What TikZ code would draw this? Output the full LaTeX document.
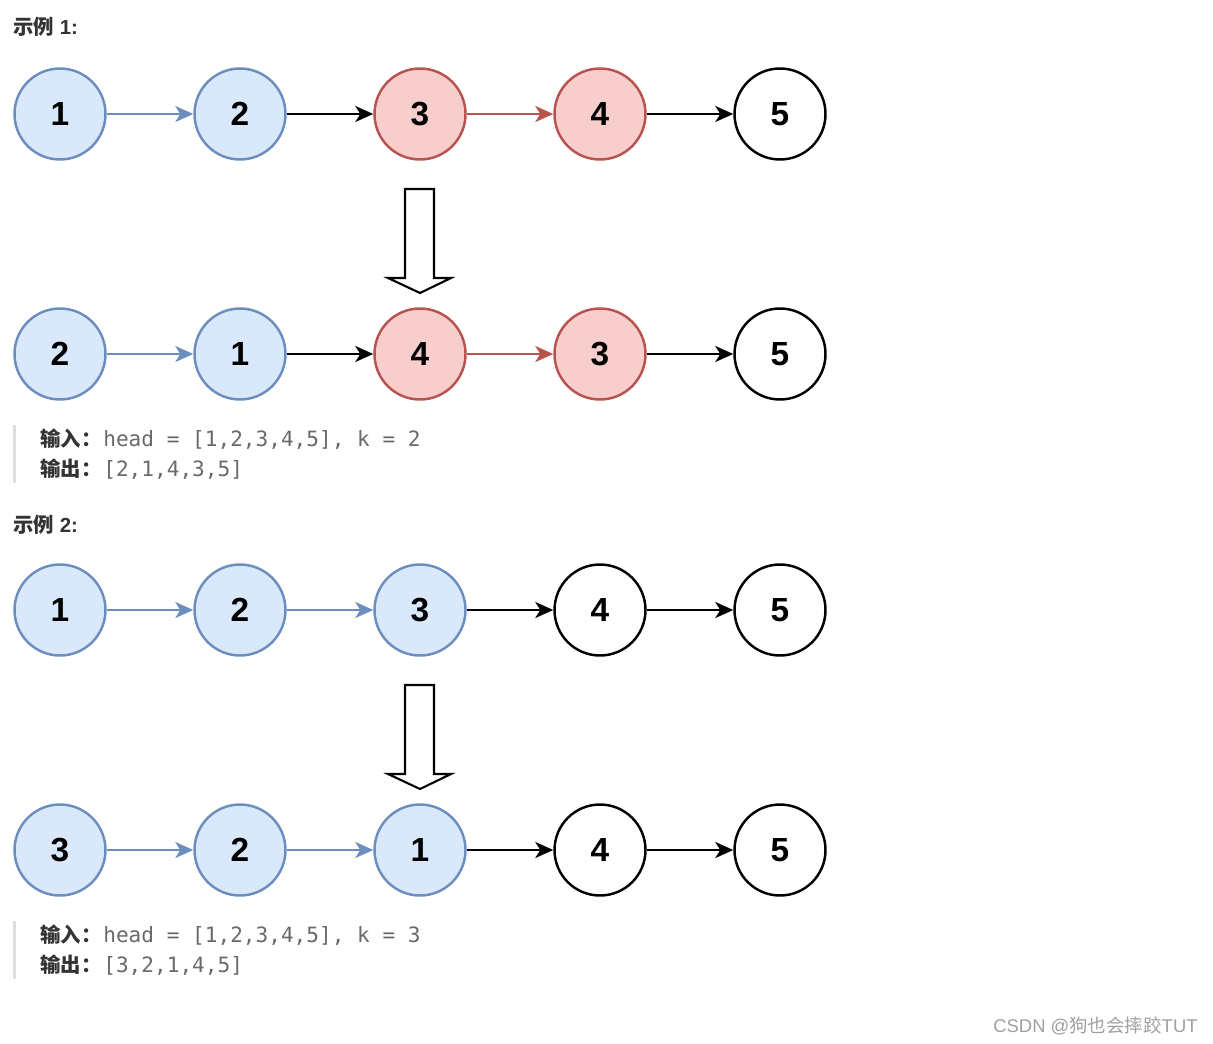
\documentclass[tikz,border=0pt]{standalone}
\usepackage{fontspec}
\setmainfont{Liberation Sans}
\setmonofont{DejaVu Sans Mono}
\newfontfamily\cjk{Noto Sans CJK SC}
\usetikzlibrary{arrows.meta}

\definecolor{nodeblue}{HTML}{6C8EBF}
\definecolor{fillblue}{HTML}{DAE8FC}
\definecolor{nodered}{HTML}{B85450}
\definecolor{fillred}{HTML}{F8CECC}
\definecolor{codegray}{HTML}{6A6A6A}
\definecolor{labelgray}{HTML}{333333}
\definecolor{bargray}{HTML}{DDDDDD}
\definecolor{markgray}{HTML}{A0A0A0}

\begin{document}
\begin{tikzpicture}[x=0.02cm,y=-0.02cm,
	numnode/.style={circle,minimum size=1.82cm,inner sep=0pt,line width=1.4pt,font=\bfseries\fontsize{19}{19}\selectfont},
	bluenode/.style={numnode,draw=nodeblue,fill=fillblue},
	rednode/.style={numnode,draw=nodered,fill=fillred},
	plainnode/.style={numnode,draw=black,fill=white},
	chainlink/.style={-{Stealth[length=0.36cm,width=0.32cm,inset=0.1cm]},line width=1.3pt},
	bluelink/.style={chainlink,draw=nodeblue},
	redlink/.style={chainlink,draw=nodered},
	blacklink/.style={chainlink,draw=black},
	heading/.style={anchor=base west,inner sep=0pt,text=labelgray,font=\bfseries\fontsize{11.6}{11.6}\selectfont},
	codetext/.style={anchor=base west,inner sep=0pt,text=codegray,font=\ttfamily\fontsize{12}{12}\selectfont},
	blockarrow/.style={draw=black,fill=white,line width=1.2pt}]
	
	\fill[white] (0,0) rectangle (1213,1044);
	\useasboundingbox (0,0) rectangle (1213,1044);
	
	% example 1
	\node[heading] (t1) at (13,35) {{\cjk 示例} 1:};
	
	\node[bluenode] (a1) at (60,114) {1};
	\node[bluenode] (a2) at (240,114) {2};
	\node[rednode] (a3) at (420,114) {3};
	\node[rednode] (a4) at (600,114) {4};
	\node[plainnode] (a5) at (780,114) {5};
	
	\draw[bluelink] (a1) -- (a2);
	\draw[blacklink] (a2) -- (a3);
	\draw[redlink] (a3) -- (a4);
	\draw[blacklink] (a4) -- (a5);
	
	\draw[blockarrow] (405,189) -- (434,189) -- (434,278) -- (451,278) -- (420,293) -- (388,278) -- (405,278) -- cycle;
	
	\node[bluenode] (b1) at (60,354) {2};
	\node[bluenode] (b2) at (240,354) {1};
	\node[rednode] (b3) at (420,354) {4};
	\node[rednode] (b4) at (600,354) {3};
	\node[plainnode] (b5) at (780,354) {5};
	
	\draw[bluelink] (b1) -- (b2);
	\draw[blacklink] (b2) -- (b3);
	\draw[redlink] (b3) -- (b4);
	\draw[blacklink] (b4) -- (b5);
	
	\fill[bargray] (13,425) rectangle (16,483);
	\node[heading] (in1) at (40,446) {\cjk 输入：};
	\node[codetext] (in1c) at (103,446) {head = [1,2,3,4,5], k = 2};
	\node[heading] (out1) at (40,476) {\cjk 输出：};
	\node[codetext] (out1c) at (103,476) {[2,1,4,3,5]};
	
	% example 2
	\node[heading] (t2) at (13,532) {{\cjk 示例} 2:};
	
	\node[bluenode] (c1) at (60,610) {1};
	\node[bluenode] (c2) at (240,610) {2};
	\node[bluenode] (c3) at (420,610) {3};
	\node[plainnode] (c4) at (600,610) {4};
	\node[plainnode] (c5) at (780,610) {5};
	
	\draw[bluelink] (c1) -- (c2);
	\draw[bluelink] (c2) -- (c3);
	\draw[blacklink] (c3) -- (c4);
	\draw[blacklink] (c4) -- (c5);
	
	\draw[blockarrow] (405,685) -- (434,685) -- (434,774) -- (451,774) -- (420,789) -- (388,774) -- (405,774) -- cycle;
	
	\node[bluenode] (d1) at (60,850) {3};
	\node[bluenode] (d2) at (240,850) {2};
	\node[bluenode] (d3) at (420,850) {1};
	\node[plainnode] (d4) at (600,850) {4};
	\node[plainnode] (d5) at (780,850) {5};
	
	\draw[bluelink] (d1) -- (d2);
	\draw[bluelink] (d2) -- (d3);
	\draw[blacklink] (d3) -- (d4);
	\draw[blacklink] (d4) -- (d5);
	
	\fill[bargray] (13,921) rectangle (16,979);
	\node[heading] (in2) at (40,942) {\cjk 输入：};
	\node[codetext] (in2c) at (103,942) {head = [1,2,3,4,5], k = 3};
	\node[heading] (out2) at (40,972) {\cjk 输出：};
	\node[codetext] (out2c) at (103,972) {[3,2,1,4,5]};
	
	\node[anchor=base west,inner sep=0pt,text=markgray,font=\fontsize{10.5}{10.5}\selectfont] (mark) at (993,1032) {CSDN @{\cjk 狗也会摔跤}TUT};
	
\end{tikzpicture}
\end{document}
